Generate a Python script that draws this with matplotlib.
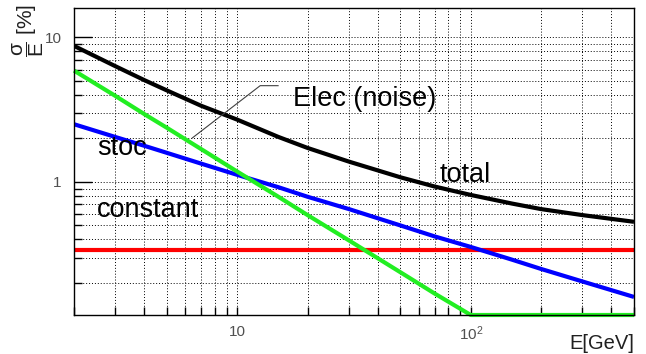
import matplotlib
matplotlib.use("Agg")
import matplotlib.pyplot as plt
from matplotlib.ticker import FixedLocator, NullFormatter, FixedFormatter

# ---- data ----
energy = [2, 3, 4, 5, 7, 10, 15, 20, 30, 50, 70, 100, 150, 200, 300, 500]
noise = [5.9, 3.95, 2.95, 2.37, 1.69, 1.18, 0.79, 0.59, 0.395, 0.237, 0.169,
         0.12, 0.12, 0.12, 0.12, 0.12]
stoc = [2.51, 2.05, 1.78, 1.59, 1.34, 1.12, 0.92, 0.79, 0.65, 0.50, 0.42,
        0.355, 0.29, 0.25, 0.205, 0.16]
constant = [0.34] * len(energy)
total = [8.75, 6.34, 5.07, 4.30, 3.37, 2.70, 2.05, 1.72, 1.385, 1.077, 0.93,
         0.813, 0.709, 0.649, 0.59, 0.53]

x_major = [10, 100]
x_major_labels = ["10", "$10^{2}$"]
y_major = [1, 10]
y_major_labels = ["1", "10"]

W, H = 646, 354
fig = plt.figure(figsize=(W / 100, H / 100), dpi=100)
plt.rcParams['font.family'] = ['Liberation Sans', 'DejaVu Sans']
plt.rcParams['mathtext.fontset'] = 'custom'
plt.rcParams['mathtext.rm'] = 'Liberation Sans'
plt.rcParams['mathtext.it'] = 'Liberation Sans'

ax = fig.add_axes([74 / W, 1 - 315 / H, (634 - 74) / W, (315 - 8) / H])
ax.set_xscale('log')
ax.set_yscale('log')
ax.set_xlim(2, 500)
ax.set_ylim(0.12, 16)

x_minor = [m * 10 ** d for d in range(0, 3) for m in range(2, 10)]
x_minor = [v for v in x_minor if 2 <= v <= 500 and v not in x_major]
y_minor = [m * 10 ** d for d in range(-1, 2) for m in range(2, 10)]
y_minor = [v for v in y_minor if 0.12 <= v <= 16 and v not in y_major]

ax.xaxis.set_major_locator(FixedLocator(x_major))
ax.xaxis.set_major_formatter(FixedFormatter(x_major_labels))
ax.xaxis.set_minor_locator(FixedLocator(x_minor))
ax.xaxis.set_minor_formatter(NullFormatter())
ax.yaxis.set_major_locator(FixedLocator(y_major))
ax.yaxis.set_major_formatter(FixedFormatter(y_major_labels))
ax.yaxis.set_minor_locator(FixedLocator(y_minor))
ax.yaxis.set_minor_formatter(NullFormatter())

ax.grid(True, which='both', color='black', linestyle=(0, (1, 2)), linewidth=0.7)
ax.set_axisbelow(True)

ax.tick_params(axis='x', which='both', direction='in', length=6, width=1,
               top=False, labelsize=11, labelcolor='#505050', pad=7)
ax.tick_params(axis='y', which='major', direction='in', length=13, width=1,
               right=False, labelsize=11, labelcolor='#505050', pad=9)
ax.tick_params(axis='y', which='minor', direction='in', length=6, width=1,
               right=False)
for sp in ax.spines.values():
    sp.set_linewidth(1.0)
    sp.set_color('black')

lw = 3.0
ax.plot(energy, constant, color='#ff0000', lw=lw, solid_capstyle='butt')
ax.plot(energy, stoc, color='#0000ff', lw=lw, solid_capstyle='butt')
ax.plot(energy, total, color='black', lw=lw, solid_capstyle='butt')
ax.plot(energy, noise, color='#22ee22', lw=lw, solid_capstyle='butt', clip_on=False)

# pointer line for "Elec (noise)"
ax.plot([14.96, 12.54, 6.43], [4.64, 4.64, 2.02], color='#404040', lw=0.8)

def ftext(px, py, s, **kw):
    fig.text(px / W, 1 - py / H, s, **kw)

fs = 19.5
ftext(293, 106, "Elec (noise)", fontsize=fs, va='baseline', ha='left')
ftext(97, 155, "stoc", fontsize=fs, va='baseline', ha='left')
ftext(97, 217, "constant", fontsize=fs, va='baseline', ha='left')
ftext(440, 182, "total", fontsize=fs, va='baseline', ha='left')
ftext(634, 349, "E[GeV]", fontsize=14.5, va='baseline', ha='right', color='#202020')
ftext(28, 4, r'$\dfrac{\sigma}{E}$ [%]', fontsize=15, rotation=90,
      ha='center', va='top', color='#202020')

fig.savefig("out.png", dpi=100)
